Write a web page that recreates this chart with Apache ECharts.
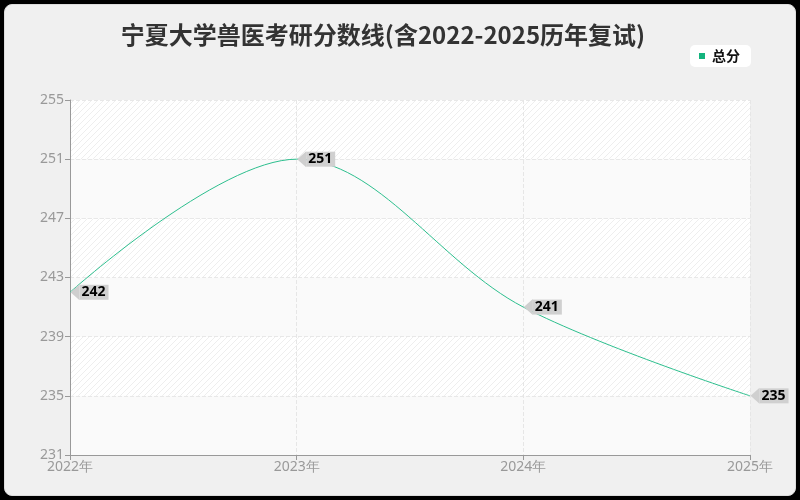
<!DOCTYPE html>
<html>
<head>
<meta charset="utf-8">
<script src="https://cdn.jsdelivr.net/npm/echarts@6/dist/echarts.min.js"></script>
<style>
  html, body { margin: 0; padding: 0; background: #000; }
  #frame { position: absolute; left: 4px; top: 4px; width: 790px; height: 490px;
           background: #f0f0f0; border: 1px solid #ddd; border-radius: 8px; overflow: hidden; }
  #chart { position: absolute; left: -5px; top: -5px; width: 800px; height: 500px; }
</style>
</head>
<body>
<div id="frame"><div id="chart"></div></div>
<script>
// 年份和分数
const years = ['2022年', '2023年', '2024年', '2025年']
const scores = [242, 251, 241, 235]
const seriesName = '总分'
const titleText = '宁夏大学兽医考研分数线(含2022-2025历年复试)'

// 斜纹背景
function stripe() {
  let c = document.createElement('canvas')
  c.width = 6
  c.height = 6
  let ctx = c.getContext('2d')
  ctx.fillStyle = '#ffffff'
  ctx.fillRect(0, 0, 6, 6)
  ctx.strokeStyle = '#eeeeee'
  ctx.lineWidth = 1
  ctx.beginPath()
  ctx.moveTo(0, 6)
  ctx.lineTo(6, 0)
  ctx.moveTo(-2, 2)
  ctx.lineTo(2, -2)
  ctx.moveTo(4, 8)
  ctx.lineTo(8, 4)
  ctx.stroke()
  return c
}

let myEcharts = echarts.init(document.getElementById('chart'))
let option = {
  backgroundColor: 'transparent',
  title: {
    text: titleText,
    left: 378,
    top: 18,
    textAlign: 'center',
    textStyle: { fontFamily: 'Noto Sans CJK SC', fontSize: 24, fontWeight: 'bold', color: '#333' },
  },
  legend: {
    data: [seriesName],
    right: 49,
    top: 45,
    backgroundColor: '#fff',
    borderRadius: 5,
    padding: [4, 11, 4, 9],
    itemWidth: 6,
    itemHeight: 6,
    icon: 'rect',
    itemStyle: { color: '#14b47e' },
    textStyle: { fontFamily: 'Noto Sans CJK SC', fontSize: 14, color: '#111', fontWeight: 'bold', padding: [0, 0, 0, 2] },
  },
  grid: {
    left: 70,
    right: 50,
    top: 100,
    bottom: 45,
    show: true,
    borderWidth: 0,
    backgroundColor: { image: stripe(), repeat: 'repeat' },
  },
  xAxis: {
    type: 'category',
    data: years,
    boundaryGap: false,
    axisLine: { lineStyle: { color: '#999' } },
    axisTick: { lineStyle: { color: '#999' } },
    axisLabel: { color: '#999', fontSize: 14, fontFamily: 'Noto Sans', margin: 5 },
    splitLine: { show: true, lineStyle: { color: '#e6e6e6', type: 'dashed' } },
  },
  yAxis: {
    type: 'value',
    min: 231,
    max: 255,
    interval: 4,
    axisLine: { show: true, lineStyle: { color: '#999' } },
    axisTick: { show: true, lineStyle: { color: '#999' } },
    axisLabel: { color: '#999', fontSize: 14, fontFamily: 'Noto Sans', margin: 6 },
    splitLine: { lineStyle: { color: '#e8e8e8', type: 'dashed' } },
    splitArea: { show: true, areaStyle: { color: ['rgba(250,250,250,0.95)', 'rgba(255,255,255,0)'] } },
  },
  series: [
    {
      name: seriesName,
      type: 'line',
      data: scores,
      smooth: 0.35,
      lineStyle: { width: 1, color: '#2dbf8e' },
      symbol: 'path://M0,5 L6,0 L6,10 Z',
      symbolSize: [9, 16],
      symbolOffset: [5, 0],
      itemStyle: { color: '#cfcfcf' },
      label: {
        show: true,
        position: 'right',
        distance: 0,
        backgroundColor: '#d0d0d0',
        padding: [1, 3, 0, 2],
        color: '#000',
        fontSize: 14,
        fontWeight: 'bold',
        fontFamily: 'Noto Sans',
      },
    },
  ],
}
myEcharts.setOption(option)
</script>
</body>
</html>
